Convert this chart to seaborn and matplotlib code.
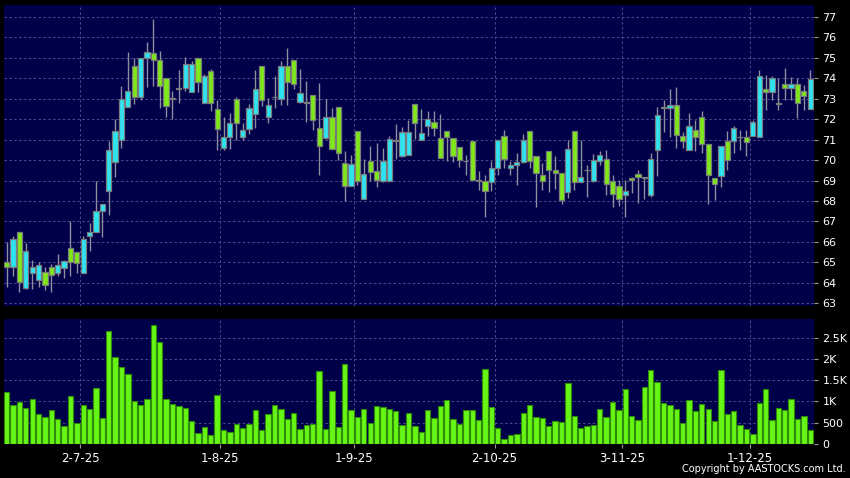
import pandas as pd
import matplotlib
matplotlib.use('Agg')
import matplotlib.pyplot as plt
import seaborn as sns

# daily OHLC (HK$), one entry per trading day
opens = [65.03, 64.78, 66.49, 63.76, 64.49, 64.15, 64.52, 64.77, 64.49, 64.72,
         65.71, 65.50, 64.49, 66.28, 66.49, 67.52, 68.48, 69.92, 71.00, 72.60,
         74.62, 73.08, 74.99, 75.24, 74.90, 74.00, 73.00, 73.55, 73.53, 73.33,
         74.99, 72.79, 74.34, 72.50, 70.60, 71.14, 72.99, 71.12, 71.50, 72.26,
         74.59, 72.11, 73.07, 73.00, 74.59, 74.90, 72.84, 72.79, 73.17, 71.57,
         71.08, 72.11, 72.60, 69.85, 68.75, 71.45, 68.11, 69.94, 69.45, 68.99,
         68.99, 70.95, 70.21, 70.25, 72.77, 70.99, 71.68, 71.86, 71.08, 71.45,
         71.08, 70.64, 69.94, 70.92, 68.99, 68.96, 68.94, 69.62, 71.16, 69.61,
         69.74, 69.90, 71.45, 70.18, 69.25, 70.43, 69.50, 69.36, 68.44, 71.45,
         68.92, 69.50, 68.96, 69.94, 70.05, 68.96, 68.75, 68.30, 69.12, 69.33,
         69.15, 68.30, 70.51, 72.55, 72.55, 72.71, 71.19, 70.51, 71.49, 72.09,
         70.80, 69.15, 69.23, 70.96, 70.92, 71.11, 71.11, 71.19, 71.11, 73.48,
         73.33, 72.76, 73.72, 73.53, 73.74, 73.36, 72.51]
highs = [66.01, 66.28, 66.50, 65.96, 65.14, 65.00, 64.78, 64.90, 65.42, 65.10,
         67.00, 65.50, 66.28, 66.93, 68.99, 67.85, 70.96, 72.02, 73.64, 75.29,
         74.99, 75.00, 75.76, 76.92, 75.32, 74.00, 73.36, 74.42, 75.04, 74.83,
         75.00, 74.23, 74.46, 72.95, 72.11, 72.31, 73.09, 71.82, 72.77, 74.43,
         74.60, 73.04, 74.13, 74.83, 75.48, 74.90, 74.47, 73.88, 73.17, 73.77,
         72.99, 72.55, 72.60, 70.43, 70.26, 71.45, 70.05, 70.67, 70.83, 70.59,
         71.16, 71.78, 71.62, 71.94, 72.77, 72.50, 72.42, 72.38, 72.27, 71.45,
         71.08, 70.64, 70.26, 70.92, 69.45, 69.28, 69.94, 70.97, 71.49, 69.94,
         70.34, 71.30, 71.45, 70.18, 69.85, 70.43, 70.18, 69.36, 71.00, 71.45,
         71.00, 69.77, 70.31, 70.47, 70.51, 69.28, 69.04, 69.04, 69.20, 69.50,
         69.20, 70.34, 72.60, 72.95, 73.48, 73.57, 71.40, 72.33, 71.94, 72.38,
         70.80, 69.15, 70.67, 71.44, 71.68, 71.49, 71.49, 71.98, 74.42, 74.18,
         74.13, 74.00, 74.50, 74.06, 74.01, 73.69, 74.42]
lows = [63.79, 64.33, 63.55, 63.68, 63.71, 63.81, 63.65, 63.55, 64.33, 64.23,
        64.33, 64.49, 64.49, 65.55, 66.49, 66.23, 67.31, 69.17, 70.58, 72.60,
        72.76, 72.95, 73.56, 73.64, 72.55, 72.09, 72.00, 72.82, 73.36, 73.33,
        73.31, 72.79, 72.38, 70.49, 70.52, 70.55, 70.97, 71.00, 71.30, 71.58,
        72.64, 71.82, 72.55, 72.69, 72.69, 73.48, 72.79, 71.89, 71.49, 69.28,
        71.03, 70.54, 70.02, 67.98, 68.75, 68.79, 68.11, 69.00, 68.71, 68.92,
        68.99, 70.05, 70.16, 70.25, 71.03, 70.99, 71.19, 71.16, 70.10, 69.94,
        69.90, 69.66, 69.28, 69.05, 68.55, 67.24, 68.47, 69.28, 69.62, 69.28,
        68.79, 69.85, 69.62, 67.70, 68.55, 68.42, 68.60, 67.86, 68.14, 68.55,
        68.92, 68.22, 68.92, 69.77, 68.31, 67.70, 67.77, 67.24, 68.39, 67.90,
        68.09, 68.19, 69.23, 71.40, 71.13, 70.59, 70.59, 70.51, 70.43, 70.34,
        67.85, 68.03, 68.71, 69.53, 70.34, 70.51, 70.18, 71.19, 71.11, 72.46,
        72.95, 72.46, 72.95, 72.95, 72.06, 72.46, 72.51]
closes = [64.77, 66.12, 64.04, 65.57, 64.78, 64.87, 63.89, 64.38, 64.87, 65.06,
          65.03, 64.98, 66.15, 66.49, 67.52, 67.85, 70.50, 71.43, 72.99, 73.38,
          73.08, 74.99, 75.29, 74.91, 73.64, 72.66, 73.00, 73.50, 74.70, 74.70,
          73.80, 74.10, 72.79, 71.52, 71.14, 71.80, 71.82, 71.48, 72.55, 73.48,
          72.94, 72.70, 73.07, 74.59, 73.84, 73.72, 73.28, 72.79, 71.98, 70.70,
          72.11, 70.54, 70.34, 68.75, 69.81, 68.96, 69.30, 69.41, 69.05, 69.98,
          71.03, 70.95, 71.36, 71.36, 71.80, 71.32, 72.01, 71.57, 70.10, 71.13,
          70.21, 70.00, 69.94, 69.05, 68.99, 68.47, 69.62, 70.97, 70.05, 69.78,
          69.90, 70.97, 69.94, 69.36, 68.96, 69.50, 69.36, 68.03, 70.54, 68.92,
          69.17, 69.50, 69.99, 70.23, 68.84, 68.36, 68.09, 68.50, 69.02, 69.17,
          69.15, 70.05, 72.19, 72.55, 72.71, 71.24, 70.92, 71.65, 71.13, 70.80,
          69.28, 68.84, 70.67, 69.99, 71.57, 71.11, 70.87, 71.89, 74.13, 73.33,
          74.00, 72.76, 73.53, 73.74, 72.79, 73.15, 73.97]
volumes = [1233, 911, 998, 840, 1068, 699, 636, 793, 581, 424,
           1131, 487, 911, 817, 1328, 621, 2655, 2050, 1807, 1642,
           1013, 919, 1068, 2797, 2396, 1068, 950, 888, 848, 534,
           259, 393, 204, 1147, 322, 291, 471, 377, 471, 809,
           322, 715, 911, 833, 581, 723, 353, 440, 479, 1713,
           361, 1241, 401, 1893, 801, 628, 817, 503, 903, 864,
           817, 770, 456, 723, 416, 275, 809, 605, 888, 1045,
           589, 463, 809, 793, 558, 1775, 864, 385, 126, 204,
           228, 723, 911, 628, 605, 432, 534, 511, 1430, 652,
           377, 424, 456, 833, 628, 990, 801, 1296, 652, 566,
           1351, 1744, 1461, 966, 911, 817, 487, 1045, 770, 950,
           817, 550, 1744, 715, 770, 440, 346, 236, 958, 1296,
           566, 840, 801, 1053, 589, 668, 338]

month_labels = ['2-7-25', '1-8-25', '1-9-25', '2-10-25', '3-11-25', '1-12-25']
month_pos = [11.5, 33.5, 54.5, 76.5, 96.5, 116.5]
price_ticks = list(range(63, 78))
vol_ticks = [0, 500, 1000, 1500, 2000, 2500]
vol_tick_labels = ['0', '500', '1K', '1.5K', '2K', '2.5K']

df = pd.DataFrame({'idx': range(len(opens)), 'open': opens, 'high': highs,
                   'low': lows, 'close': closes, 'volume': volumes})
df['bottom'] = df[['open', 'close']].min(axis=1)
df['body'] = (df['close'] - df['open']).abs().clip(lower=0.04)

navy = '#00004A'
cyan = '#2EE4F2'
green = '#7EE81C'
grid_kw = dict(color='#4E4E86', linestyle=(0, (2.5, 2.5)), linewidth=0.7)

sns.set_style('dark', {'axes.facecolor': navy, 'figure.facecolor': 'black'})

fig = plt.figure(figsize=(8.5, 4.78), dpi=100)
ax = fig.add_axes([0.0047, 0.360, 0.953, 0.630])
axv = fig.add_axes([0.0047, 0.0711, 0.953, 0.2615])

# candles
ax.vlines(df['idx'], df['low'], df['high'], color='#8E8E9E', linewidth=1, zorder=2)
body_colors = [cyan if c > o else (green if c < o else '#9A9A9A')
               for o, c in zip(df['open'], df['close'])]
ax.bar(df['idx'], df['body'], bottom=df['bottom'], width=0.82,
       color=body_colors, edgecolor='#7A7A7A', linewidth=0.9, zorder=3)
ax.set_xlim(-0.42, 126.6)
ax.set_ylim(62.87, 77.6)
ax.set_yticks(price_ticks)
ax.set_xticks(month_pos)
ax.set_xticklabels([])

# volume
sns.barplot(data=df, x='idx', y='volume', native_scale=True, color='#66F514',
            saturation=1, edgecolor='#2F8A0A', linewidth=0.8, width=0.84,
            errorbar=None, ax=axv)
axv.set_xlim(-0.42, 126.6)
axv.set_ylim(0, 2940)
axv.set_yticks(vol_ticks)
axv.set_yticklabels(vol_tick_labels)
axv.set_xticks(month_pos)
axv.set_xticklabels(month_labels)
axv.set_xlabel('')
axv.set_ylabel('')

for a in (ax, axv):
    a.set_facecolor(navy)
    a.grid(True, **grid_kw)
    a.set_axisbelow(True)
    a.yaxis.tick_right()
    a.tick_params(axis='y', colors='#9A9A9A', labelcolor='white', length=3,
                  width=0.8, pad=3, labelsize=8, left=False, right=True)
    a.tick_params(axis='x', colors='#9A9A9A', labelcolor='white', length=3,
                  width=0.8, pad=3, labelsize=8.5, bottom=True)
    for s in a.spines.values():
        s.set_visible(False)
ax.tick_params(axis='x', length=0)

fig.text(0.995, 0.008, 'Copyright by AASTOCKS.com Ltd.', ha='right', va='bottom',
         color='white', fontsize=7)

fig.savefig('out.png', dpi=100, facecolor='black')
